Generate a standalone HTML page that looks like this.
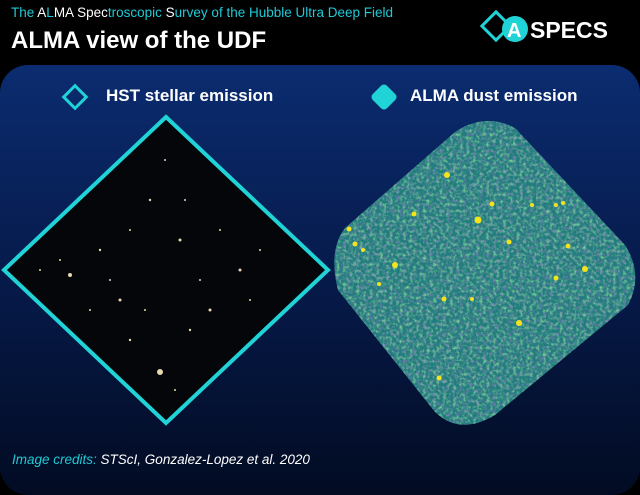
<!DOCTYPE html>
<html><head><style>
body{margin:0;width:640px;height:480px;background:#000;overflow:hidden;position:relative;font-family:"Liberation Sans",sans-serif}
.sub{position:absolute;left:11px;top:5px;font-size:13.5px;color:#1fc9d6}
.sub b{font-weight:normal;color:#fff}
.title{position:absolute;left:11px;top:27px;font-size:24px;font-weight:bold;color:#fff}
.panel{position:absolute;left:0;top:65px;width:640px;height:430px;border-radius:28px;background:linear-gradient(#0b2c70,#061a4a 50%,#020b22)}
.lab{position:absolute;top:86px;font-size:17px;font-weight:bold;color:#fff}
.cred{position:absolute;left:12px;top:452px;font-size:13.5px;font-style:italic;color:#1fc9d6}
.cred span{color:#fff}
</style></head><body>
<div class="sub">The <b>A</b>L<b>MA</b> <b>Spec</b>troscopic <b>S</b>urvey of the Hubble Ultra Deep Field</div>
<div class="title">ALMA view of the UDF</div>
<svg style="position:absolute;left:478px;top:8px" width="160" height="40">
<rect x="8" y="8" width="20" height="20" transform="rotate(45 18 18)" fill="none" stroke="#1fd3d6" stroke-width="3"/>
<circle cx="37" cy="21" r="13" fill="#1fd3d6"/>
<text x="29" y="29" font-family="Liberation Sans" font-weight="bold" font-size="20" fill="#fff">A</text>
<text x="52" y="30" font-family="Liberation Sans" font-weight="bold" font-size="23" fill="#fff">SPECS</text>
</svg>
<div class="panel"></div>
<svg style="position:absolute;left:60px;top:82px" width="30" height="30"><rect x="7" y="7" width="16" height="16" transform="rotate(45 15 15)" fill="none" stroke="#1fd3d6" stroke-width="3"/></svg>
<div class="lab" style="left:106px">HST stellar emission</div>
<svg style="position:absolute;left:368px;top:81px" width="32" height="32"><rect x="6" y="6" width="20" height="20" rx="4" transform="rotate(45 16 16)" fill="#1fd3d6"/></svg>
<div class="lab" style="left:410px">ALMA dust emission</div>
<svg style="position:absolute;left:0;top:0" width="640" height="480">
<defs>
<filter id="n"><feTurbulence type="fractalNoise" baseFrequency="0.3" numOctaves="2" seed="3"/><feColorMatrix type="matrix" values="0 0 0 0 0.3  0 0 0 0 0.78  0 0 0 0 0.35  2 0 0 0 -0.9"/><feComposite in2="SourceGraphic" operator="in"/></filter>
<filter id="m"><feTurbulence type="fractalNoise" baseFrequency="0.3" numOctaves="2" seed="9"/><feColorMatrix type="matrix" values="0 0 0 0 0.25  0 0 0 0 0.2  0 0 0 0 0.5  2 0 0 0 -0.95"/><feComposite in2="SourceGraphic" operator="in"/></filter>
<path id="b" d="M338,290 Q328,250 345,228 L455,132 Q485,112 515,128 L625,245 Q644,275 628,305 L495,415 Q460,436 435,412 Z"/>
</defs>
<polygon points="166,117 328,270 166,423 4,270" fill="#05060a" stroke="#1fd3d6" stroke-width="4"/>
<g fill="#e8d8b0">
<circle cx="160" cy="372" r="3"/><circle cx="70" cy="275" r="2"/><circle cx="180" cy="240" r="1.5"/><circle cx="120" cy="300" r="1.5"/><circle cx="210" cy="310" r="1.5"/><circle cx="150" cy="200" r="1.2"/><circle cx="240" cy="270" r="1.5"/><circle cx="100" cy="250" r="1.2"/><circle cx="190" cy="330" r="1.2"/><circle cx="130" cy="340" r="1.2"/><circle cx="260" cy="250" r="1"/><circle cx="40" cy="270" r="1"/><circle cx="165" cy="160" r="1"/>
<circle cx="110" cy="280" r="1"/><circle cx="200" cy="280" r="1"/><circle cx="145" cy="310" r="1"/><circle cx="220" cy="230" r="1"/><circle cx="90" cy="310" r="1"/><circle cx="175" cy="390" r="1"/><circle cx="130" cy="230" r="1"/><circle cx="250" cy="300" r="1"/><circle cx="60" cy="260" r="1"/><circle cx="185" cy="200" r="1"/>
</g>
<use href="#b" fill="#217c7e"/>
<use href="#b" fill="#000" filter="url(#n)"/>
<use href="#b" fill="#000" filter="url(#m)"/>
<g fill="#f5e31c">
<circle cx="447" cy="175" r="3"/><circle cx="478" cy="220" r="3.5"/><circle cx="414" cy="214" r="2.5"/><circle cx="492" cy="204" r="2.5"/><circle cx="349" cy="229" r="2.5"/><circle cx="355" cy="244" r="2.5"/><circle cx="395" cy="265" r="3"/><circle cx="509" cy="242" r="2.5"/><circle cx="568" cy="246" r="2.5"/><circle cx="585" cy="269" r="3"/><circle cx="556" cy="278" r="2.5"/><circle cx="444" cy="299" r="2.5"/><circle cx="472" cy="299" r="2"/><circle cx="519" cy="323" r="3"/><circle cx="379" cy="284" r="2"/><circle cx="439" cy="378" r="2.5"/><circle cx="532" cy="205" r="2"/><circle cx="556" cy="205" r="2"/><circle cx="563" cy="203" r="2"/><circle cx="363" cy="250" r="2"/>
</g>
</svg>
<div class="cred">Image credits: <span>STScI, Gonzalez-Lopez et al. 2020</span></div>
</body></html>
